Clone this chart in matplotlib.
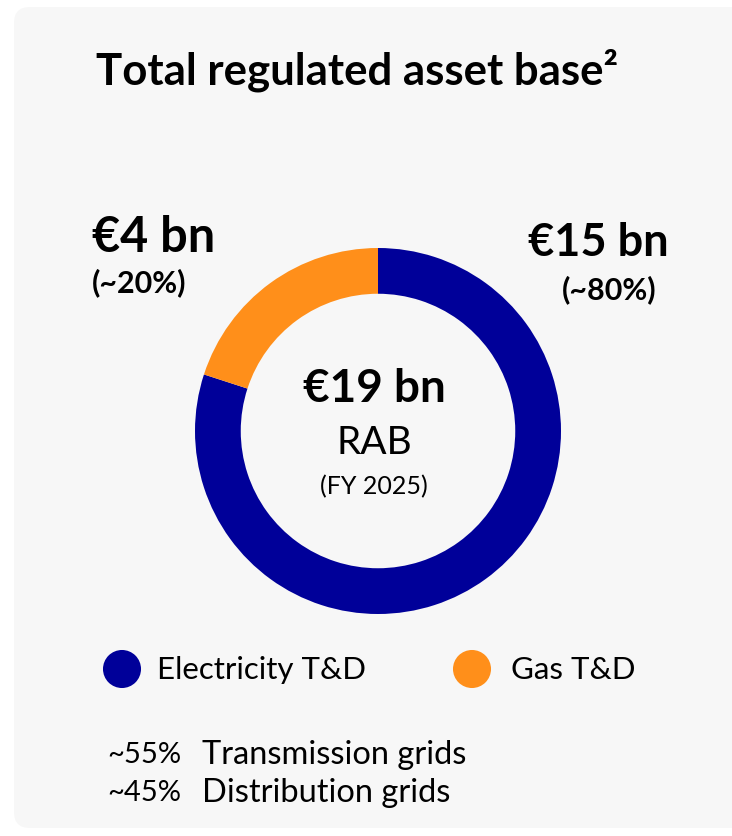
import matplotlib
matplotlib.use("Agg")
import matplotlib.pyplot as plt
from matplotlib.patches import FancyBboxPatch

# data
segments = ["Electricity T&D", "Gas T&D"]
shares = [80, 20]
amounts = ["€15 bn", "€4 bn"]
share_labels = ["(~80%)", "(~20%)"]
colors = ["#000099", "#FF8F1A"]
total_label = "€19 bn"
breakdown_pct = ["~55%", "~45%"]
breakdown_names = ["Transmission grids", "Distribution grids"]

plt.rcParams["font.family"] = ["Lato", "DejaVu Sans"]

W, H = 732, 836
fig = plt.figure(figsize=(W / 100, H / 100), dpi=100)
fig.patch.set_facecolor("white")

# background axes in pixel coordinates
bg = fig.add_axes([0, 0, 1, 1])
bg.set_xlim(0, W)
bg.set_ylim(H, 0)
bg.axis("off")
bg.add_patch(FancyBboxPatch((14, 7), W + 40, 821,
                            boxstyle="round,pad=0,rounding_size=16",
                            fc="#F7F7F7", ec="none"))

bg.text(96, 70, "Total regulated asset base²", fontsize=31.5, fontweight="bold",
        va="center", ha="left", color="black")

# donut
cx, cy, r = 378, 431, 183
pie_ax = fig.add_axes([(cx - r) / W, 1 - (cy + r) / H, 2 * r / W, 2 * r / H])
pie_ax.pie(shares, colors=colors, startangle=90, counterclock=False,
           wedgeprops=dict(width=0.25, linewidth=0))
pie_ax.set_xlim(-1, 1)
pie_ax.set_ylim(-1, 1)
pie_ax.set_aspect("equal")

bg.text(374, 389, total_label, fontsize=33, fontweight="bold", ha="center", va="center")
bg.text(374, 443, "RAB", fontsize=28, ha="center", va="center")
bg.text(374, 487, "(FY 2025)", fontsize=18, ha="center", va="center")

# segment labels
bg.text(598, 243, amounts[0], fontsize=32.5, fontweight="bold", ha="center", va="center")
bg.text(609, 290, share_labels[0], fontsize=22, fontweight="bold", ha="center", va="center")
bg.text(154, 238, amounts[1], fontsize=35, fontweight="bold", ha="center", va="center")
bg.text(139, 283, share_labels[1], fontsize=22, fontweight="bold", ha="center", va="center")

# legend
for (x_dot, x_txt), name, c in zip([(122, 157), (472, 511)], segments, colors):
    bg.scatter([x_dot], [669], s=750, color=c, edgecolors="none")
    bg.text(x_txt, 670, name, fontsize=22.5, ha="left", va="center")

for i, (p, n) in enumerate(zip(breakdown_pct, breakdown_names)):
    y = 755 + i * 38
    bg.text(107, y, p, fontsize=21, ha="left", va="center")
    bg.text(202, y, n, fontsize=23.5, ha="left", va="center")

fig.savefig("out.png", dpi=100)
